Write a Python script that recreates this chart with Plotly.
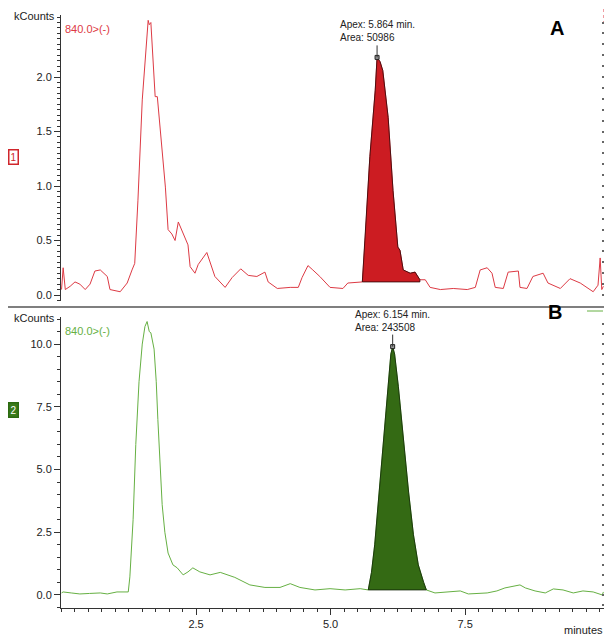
import numpy as np
import plotly.graph_objects as go

# ---------------- data (minutes, kCounts) ----------------
red_t = [0.00, 0.03, 0.07, 0.16, 0.25, 0.34, 0.44, 0.53, 0.62, 0.72, 0.85, 0.90, 1.09, 1.22, 1.31,
         1.36, 1.42, 1.50, 1.61, 1.63, 1.66, 1.74, 1.78, 1.93, 1.98, 2.05, 2.11, 2.17, 2.35, 2.39,
         2.48, 2.54, 2.70, 2.85, 3.04, 3.17, 3.33, 3.47, 3.63, 3.78, 3.84, 4.01, 4.25, 4.40, 4.47,
         4.58, 4.67, 4.80, 4.99, 5.23, 5.32, 5.49, 5.59, 5.64, 5.73, 5.83, 5.864, 5.92, 5.96, 5.97,
         6.07, 6.16, 6.25, 6.29, 6.35, 6.48, 6.57, 6.66, 6.76, 6.85, 7.04, 7.28, 7.54, 7.69, 7.78,
         7.91, 8.00, 8.06, 8.21, 8.30, 8.49, 8.52, 8.65, 8.76, 8.95, 9.04, 9.27, 9.45, 9.64, 9.88,
         9.97, 10.01, 10.04, 10.07]
red_v = [0.05, 0.25, 0.05, 0.08, 0.12, 0.10, 0.05, 0.10, 0.22, 0.23, 0.17, 0.05, 0.03, 0.11, 0.23,
         0.29, 0.87, 1.79, 2.52, 2.48, 2.50, 1.82, 1.82, 0.99, 0.60, 0.56, 0.50, 0.67, 0.46, 0.26,
         0.20, 0.28, 0.39, 0.17, 0.07, 0.16, 0.24, 0.18, 0.17, 0.21, 0.12, 0.06, 0.07, 0.07, 0.16,
         0.27, 0.23, 0.17, 0.07, 0.06, 0.11, 0.12, 0.12, 0.50, 1.27, 1.88, 2.18, 2.14, 2.09, 2.06,
         1.63, 0.96, 0.44, 0.41, 0.23, 0.20, 0.21, 0.14, 0.14, 0.07, 0.05, 0.06, 0.05, 0.07, 0.23,
         0.25, 0.20, 0.07, 0.06, 0.21, 0.22, 0.07, 0.06, 0.17, 0.20, 0.11, 0.06, 0.15, 0.11, 0.03,
         0.09, 0.34, 0.05, 0.08]

green_t = [0.00, 0.03, 0.18, 0.34, 0.52, 0.72, 0.85, 1.03, 1.24, 1.27, 1.33, 1.38, 1.44, 1.50, 1.55,
           1.59, 1.63, 1.66, 1.72, 1.76, 1.79, 1.83, 1.87, 1.92, 1.98, 2.07, 2.15, 2.26, 2.35, 2.44,
           2.57, 2.76, 2.95, 3.22, 3.50, 3.78, 4.06, 4.25, 4.43, 4.71, 4.99, 5.27, 5.55, 5.70, 5.76,
           5.82, 5.89, 5.98, 6.08, 6.12, 6.154, 6.19, 6.26, 6.35, 6.45, 6.54, 6.63, 6.73, 6.78, 6.94,
           7.17, 7.41, 7.56, 7.91, 8.09, 8.24, 8.52, 8.62, 8.80, 8.99, 9.14, 9.32, 9.51, 9.69, 9.88,
           10.05, 10.07]
green_v = [0.08, 0.12, 0.08, 0.04, 0.06, 0.08, 0.04, 0.12, 0.12, 0.72, 3.0, 6.0, 8.5, 10.0, 10.7,
           10.9, 10.5, 10.45, 9.8, 8.5, 7.0, 5.0, 3.6, 2.5, 1.67, 1.2, 1.08, 0.8, 0.92, 1.08,
           0.92, 0.8, 0.9, 0.7, 0.4, 0.3, 0.3, 0.45, 0.3, 0.2, 0.25, 0.2, 0.25, 0.2, 0.9,
           2.0, 3.8, 6.3, 8.8, 9.6, 9.9, 9.6, 8.3, 6.2, 4.1, 2.4, 1.2, 0.5, 0.2, 0.08,
           0.12, 0.16, 0.04, 0.08, 0.16, 0.28, 0.4, 0.28, 0.16, 0.08, 0.24, 0.2, 0.08, 0.16, 0.12,
           0.0, 0.12]

red_peak_window = (5.59, 6.66)
green_peak_window = (5.70, 6.78)
red_apex = (5.864, 2.18)
green_apex = (6.154, 9.9)
red_label = "Apex: 5.864 min.<br>Area: 50986"
green_label = "Apex: 6.154 min.<br>Area: 243508"

top_ticks = [0.0, 0.5, 1.0, 1.5, 2.0]
top_ticktext = ["0.0", "0.5", "1.0", "1.5", "2.0"]
bot_ticks = [0.0, 2.5, 5.0, 7.5, 10.0]
bot_ticktext = ["0.0", "2.5", "5.0", "7.5", "10.0"]
x_ticks = [2.5, 5.0, 7.5]
x_ticktext = ["2.5", "5.0", "7.5"]

# ---------------- figure ----------------
# page body has an 8px margin: size the figure so it fills the 612x639 window
OFF = 8
W, H = 612 - OFF, 639 - OFF
def py(p):  # reference pixel row -> paper y
    return 1 - (p - OFF) / H
def pxp(p):  # reference pixel column -> paper x
    return (p - OFF) / W

RED_LINE = "#dd3a44"
RED_FILL = "#cc1c22"
GREEN_LINE = "#66b043"
GREEN_FILL = "#346a14"
FONT = "Liberation Sans, Arial, sans-serif"

fig = go.Figure()

def peak_poly(t, v, win):
    t = np.asarray(t); v = np.asarray(v)
    m = (t >= win[0]) & (t <= win[1])
    pt, pv = t[m], v[m]
    base = pv[0]
    xs = list(pt) + [pt[-1], pt[0]]
    ys = list(pv) + [base, base]
    return xs, ys

# top panel
fig.add_trace(go.Scatter(x=red_t, y=red_v, mode="lines", line=dict(color=RED_LINE, width=1),
                         xaxis="x", yaxis="y", hoverinfo="skip"))
px_, py_ = peak_poly(red_t, red_v, red_peak_window)
fig.add_trace(go.Scatter(x=px_, y=py_, mode="lines", fill="toself", fillcolor=RED_FILL,
                         line=dict(color="#2a0505", width=0.8), xaxis="x", yaxis="y", hoverinfo="skip"))
fig.add_trace(go.Scatter(x=[red_apex[0]], y=[red_apex[1]], mode="markers",
                         marker=dict(symbol="square", size=4, color="#999", line=dict(color="#222", width=1)),
                         xaxis="x", yaxis="y", hoverinfo="skip"))
# invisible copy that carries the right-hand tick scale
fig.add_trace(go.Scatter(x=red_t, y=red_v, mode="none", xaxis="x", yaxis="y3", hoverinfo="skip"))

# bottom panel
fig.add_trace(go.Scatter(x=green_t, y=green_v, mode="lines", line=dict(color=GREEN_LINE, width=1),
                         xaxis="x2", yaxis="y2", hoverinfo="skip"))
gx_, gy_ = peak_poly(green_t, green_v, green_peak_window)
fig.add_trace(go.Scatter(x=gx_, y=gy_, mode="lines", fill="toself", fillcolor=GREEN_FILL,
                         line=dict(color="#0f2205", width=0.8), xaxis="x2", yaxis="y2", hoverinfo="skip"))
fig.add_trace(go.Scatter(x=[green_apex[0]], y=[green_apex[1]], mode="markers",
                         marker=dict(symbol="square", size=4, color="#999", line=dict(color="#222", width=1)),
                         xaxis="x2", yaxis="y2", hoverinfo="skip"))
fig.add_trace(go.Scatter(x=green_t, y=green_v, mode="none", xaxis="x2", yaxis="y4", hoverinfo="skip"))

xdom = [pxp(61), pxp(605)]
xrange_ = [-0.01, 10.10]
top_range = [-0.055, 2.569]
bot_range = [-0.52, 11.08]

axis_common = dict(showgrid=False, zeroline=False, showline=True, linecolor="#333", linewidth=1,
                   ticks="outside", ticklen=6, tickcolor="#333",
                   tickfont=dict(family=FONT, size=11, color="#222"))
right_common = dict(showgrid=False, zeroline=False, showline=False, showticklabels=False,
                    ticks="inside", ticklen=3, tickwidth=1.5, tickcolor="#666", side="right",
                    tickmode="linear", tick0=0)

fig.update_layout(
    width=W, height=H, margin=dict(l=0, r=0, t=0, b=0),
    paper_bgcolor="white", plot_bgcolor="white", showlegend=False,
    font=dict(family=FONT, size=11, color="#222"),
    xaxis=dict(domain=xdom, range=xrange_, visible=False, anchor="y"),
    yaxis=dict(domain=[py(301), py(15)], range=top_range, anchor="x",
               tickvals=top_ticks, ticktext=top_ticktext,
               minor=dict(dtick=0.05, ticklen=3, ticks="outside", tickcolor="#333"),
               **axis_common),
    yaxis3=dict(overlaying="y", anchor="x", range=top_range, dtick=0.1, **right_common),
    xaxis2=dict(domain=xdom, range=xrange_, anchor="y2",
                tickvals=x_ticks, ticktext=x_ticktext,
                minor=dict(dtick=0.25, ticklen=3, ticks="outside", tickcolor="#333"),
                **axis_common),
    yaxis2=dict(domain=[py(608), py(317)], range=bot_range, anchor="x2",
                tickvals=bot_ticks, ticktext=bot_ticktext,
                minor=dict(dtick=0.5, ticklen=3, ticks="outside", tickcolor="#333"),
                **axis_common),
    yaxis4=dict(overlaying="y2", anchor="x2", range=bot_range, dtick=0.4, **right_common),
)

# divider line between panels
fig.add_shape(type="line", xref="paper", yref="paper", x0=0, x1=1, y0=py(307), y1=py(307),
              line=dict(color="#555", width=1.5))
# small scale markers at the right edge
fig.add_shape(type="line", xref="paper", yref="paper", x0=pxp(604), x1=pxp(604), y0=py(9), y1=py(22),
              line=dict(color=RED_LINE, width=1, dash="dot"))
fig.add_shape(type="line", xref="paper", yref="paper", x0=pxp(587), x1=pxp(603), y0=py(311), y1=py(311),
              line=dict(color=GREEN_LINE, width=1))

ann = []
ann.append(dict(xref="paper", yref="paper", x=pxp(57), y=py(16), text="kCounts", showarrow=False,
                xanchor="right", yanchor="middle", font=dict(size=11, color="#222")))
ann.append(dict(xref="paper", yref="paper", x=pxp(57), y=py(318), text="kCounts", showarrow=False,
                xanchor="right", yanchor="middle", font=dict(size=11, color="#222")))
ann.append(dict(xref="paper", yref="paper", x=pxp(63), y=py(29), text="840.0>(-)", showarrow=False,
                xanchor="left", yanchor="middle", font=dict(size=11, color=RED_LINE)))
ann.append(dict(xref="paper", yref="paper", x=pxp(63), y=py(331), text="840.0>(-)", showarrow=False,
                xanchor="left", yanchor="middle", font=dict(size=11, color=GREEN_LINE)))
ann.append(dict(xref="paper", yref="paper", x=pxp(13), y=py(157), text="1", showarrow=False,
                xanchor="center", yanchor="middle", font=dict(size=10, color="#d0262c"),
                bordercolor="#d0262c", borderwidth=1.5, borderpad=1, bgcolor="white"))
ann.append(dict(xref="paper", yref="paper", x=pxp(13), y=py(410), text="2", showarrow=False,
                xanchor="center", yanchor="middle", font=dict(size=10, color="white"),
                bordercolor="#2c6a10", borderwidth=1.5, borderpad=1, bgcolor="#3a7a1a"))
ann.append(dict(xref="paper", yref="paper", x=pxp(557), y=py(28), text="<b>A</b>", showarrow=False,
                xanchor="center", yanchor="middle", font=dict(size=20, color="black")))
ann.append(dict(xref="paper", yref="paper", x=pxp(555), y=py(312), text="<b>B</b>", showarrow=False,
                xanchor="center", yanchor="middle", font=dict(size=20, color="black")))
ann.append(dict(xref="x", yref="y", x=red_apex[0], y=red_apex[1], text=red_label, showarrow=True,
                arrowhead=0, arrowwidth=1, arrowcolor="#333", ax=0, ay=-12, align="left",
                yanchor="bottom", font=dict(size=10, color="#222")))
ann.append(dict(xref="x2", yref="y2", x=green_apex[0], y=green_apex[1], text=green_label, showarrow=True,
                arrowhead=0, arrowwidth=1, arrowcolor="#333", ax=0, ay=-12, align="left",
                yanchor="bottom", font=dict(size=10, color="#222")))
ann.append(dict(xref="paper", yref="paper", x=pxp(583), y=py(630), text="minutes", showarrow=False,
                xanchor="center", yanchor="middle", font=dict(size=11, color="#222")))
fig.update_layout(annotations=ann)

fig.write_html("out.html")
